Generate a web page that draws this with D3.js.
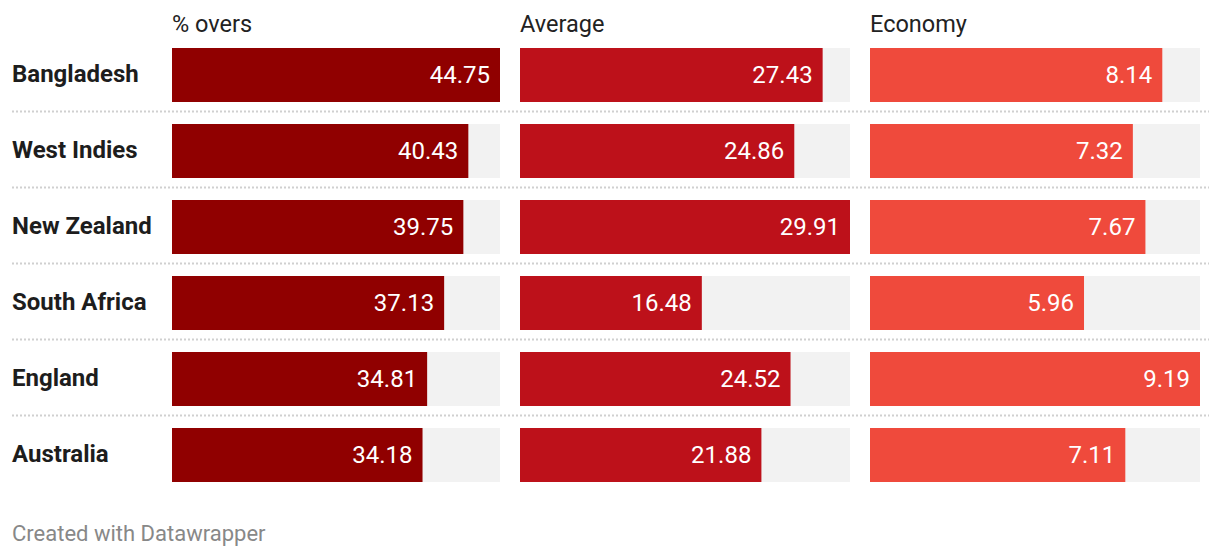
<!DOCTYPE html>
<html><head><meta charset="utf-8">
<script src="https://cdn.jsdelivr.net/npm/d3@7"></script>
<style>
body{margin:0;background:#fff;font-family:Roboto,"Noto Sans",sans-serif;}
</style></head>
<body><svg id="c" width="1220" height="558"></svg>
<script>
const countries = ["Bangladesh","West Indies","New Zealand","South Africa","England","Australia"];
const columns = ["% overs","Average","Economy"];
const pctOvers = [44.75,40.43,39.75,37.13,34.81,34.18];
const average = [27.43,24.86,29.91,16.48,24.52,21.88];
const economy = [8.14,7.32,7.67,5.96,9.19,7.11];
const series = [pctOvers, average, economy];
const colors = ["#900000","#bd111a","#ef4a3c"];

const svg = d3.select("#c");
const colX = [172,520,870];
const colW = [328,330,330];
const y0 = 48, step = 76, bh = 54;
const rowY = i => y0 + i*step;

// separators
countries.slice(0,-1).forEach((c,i)=>{
  svg.append("line").attr("x1",12).attr("x2",1209)
    .attr("y1",rowY(i)+bh+9.5).attr("y2",rowY(i)+bh+9.5)
    .attr("stroke","#d0d0d0").attr("stroke-width",2).attr("stroke-dasharray","2,2");
});

// labels
countries.forEach((c,i)=>{
  svg.append("text").attr("x",12).attr("y",rowY(i)+bh/2+7)
    .attr("font-size",24).attr("font-weight",700).attr("fill","#1d1d1d").text(c);
});

series.forEach((vals,k)=>{
  const x = d3.scaleLinear().domain([0,d3.max(vals)]).range([0,colW[k]]);
  const g = svg.append("g").attr("transform",`translate(${colX[k]},0)`);
  g.append("text").attr("x",0).attr("y",32).attr("font-size",23.5).attr("fill","#222").text(columns[k]);
  vals.forEach((v,i)=>{
    g.append("rect").attr("x",0).attr("y",rowY(i)).attr("width",colW[k]).attr("height",bh).attr("fill","#f2f2f2");
    g.append("rect").attr("x",0).attr("y",rowY(i)).attr("width",x(v)).attr("height",bh).attr("fill",colors[k]);
    g.append("text").attr("x",x(v)-10).attr("y",rowY(i)+bh/2+7.5)
      .attr("text-anchor","end").attr("font-size",24).attr("fill","#fff").text(v.toFixed(2));
  });
});

svg.append("text").attr("x",12).attr("y",541).attr("font-size",22).attr("fill","#888").text("Created with Datawrapper");
</script></body></html>
